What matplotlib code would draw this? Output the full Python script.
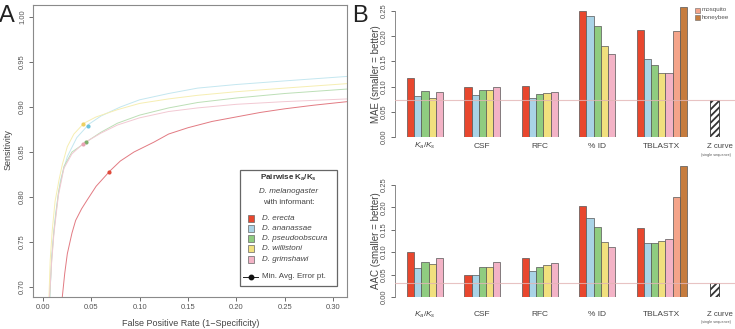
import numpy as np
import matplotlib
matplotlib.use("Agg")
import matplotlib.pyplot as plt
from matplotlib.patches import Rectangle
from matplotlib.lines import Line2D

plt.rcParams['font.family'] = ['Liberation Sans', 'DejaVu Sans']
plt.rcParams['mathtext.fontset'] = 'custom'
plt.rcParams['mathtext.rm'] = 'Liberation Sans'
plt.rcParams['mathtext.it'] = 'Liberation Sans:italic'
plt.rcParams['mathtext.bf'] = 'Liberation Sans:bold'
plt.rcParams['hatch.linewidth'] = 1.3

# ---- panel A: ROC curves ----
species = ["D. erecta", "D. ananassae", "D. pseudoobscura", "D. willistoni", "D. grimshawi"]
sp_colors = ["#e8472e", "#a9d3e6", "#8fcc80", "#f1e07e", "#f3b3c6"]
line_colors = ["#e27a82", "#c4e7f0", "#bcdfb6", "#f6eeb2", "#f2c9d3"]
pt_colors = ["#e04a3a", "#6cc3dc", "#7fae6c", "#eed060", "#e8a3b3"]

erecta_fpr = [0.020, 0.0225, 0.0252, 0.030, 0.0338, 0.040, 0.0459, 0.055, 0.0693, 0.080,
              0.0941, 0.1148, 0.13, 0.15, 0.175, 0.20, 0.225, 0.25, 0.28, 0.315]
erecta_tpr = [0.689, 0.715, 0.737, 0.760, 0.774, 0.787, 0.797, 0.812, 0.829, 0.840,
              0.850, 0.861, 0.870, 0.877, 0.884, 0.889, 0.894, 0.898, 0.902, 0.906]
ananassae_fpr = [0.0072, 0.009, 0.0131, 0.018, 0.0252, 0.035, 0.0476, 0.06, 0.08, 0.10,
                 0.13, 0.16, 0.20, 0.25, 0.315]
ananassae_tpr = [0.689, 0.735, 0.782, 0.818, 0.845, 0.866, 0.881, 0.890, 0.900, 0.908,
                 0.915, 0.921, 0.925, 0.929, 0.934]
pseudo_fpr = [0.0070, 0.009, 0.0114, 0.016, 0.0217, 0.030, 0.0459, 0.06, 0.077, 0.10,
              0.13, 0.16, 0.20, 0.25, 0.315]
pseudo_tpr = [0.689, 0.730, 0.763, 0.805, 0.834, 0.850, 0.862, 0.872, 0.882, 0.891,
              0.899, 0.905, 0.910, 0.915, 0.920]
willistoni_fpr = [0.0062, 0.0075, 0.0096, 0.0125, 0.0166, 0.020, 0.0252, 0.032, 0.0424,
                  0.055, 0.0769, 0.10, 0.13, 0.16, 0.20, 0.25, 0.315]
willistoni_tpr = [0.689, 0.730, 0.763, 0.795, 0.819, 0.836, 0.856, 0.870, 0.882,
                  0.889, 0.897, 0.904, 0.909, 0.913, 0.917, 0.921, 0.926]
grimshawi_fpr = [0.0068, 0.009, 0.0114, 0.016, 0.0217, 0.030, 0.0424, 0.06, 0.077, 0.10,
                 0.13, 0.16, 0.20, 0.25, 0.315]
grimshawi_tpr = [0.689, 0.728, 0.760, 0.802, 0.832, 0.848, 0.860, 0.871, 0.880, 0.888,
                 0.895, 0.899, 0.903, 0.906, 0.909]

# minimum average error points
min_err_fpr = [0.068, 0.0465, 0.045, 0.041, 0.041]
min_err_tpr = [0.828, 0.879, 0.861, 0.881, 0.859]

# ---- panel B: bar values ----
methods = ["$K_a/K_s$", "CSF", "RFC", "% ID", "TBLASTX"]
mae = [[0.118, 0.082, 0.091, 0.078, 0.089],
       [0.099, 0.084, 0.093, 0.093, 0.100],
       [0.101, 0.078, 0.085, 0.088, 0.090],
       [0.250, 0.241, 0.221, 0.180, 0.164],
       [0.213, 0.155, 0.143, 0.128, 0.128, 0.211, 0.259]]
aac = [[0.100, 0.064, 0.078, 0.073, 0.088],
       [0.048, 0.050, 0.066, 0.068, 0.077],
       [0.088, 0.059, 0.068, 0.071, 0.076],
       [0.202, 0.176, 0.157, 0.122, 0.111],
       [0.155, 0.120, 0.121, 0.125, 0.129, 0.223, 0.292]]
zcurve_mae = 0.074
zcurve_aac = 0.031
extra_names = ["mosquito", "honeybee"]
extra_colors = ["#f4a48a", "#c67c3e"]

W, H = 735, 329
fig = plt.figure(figsize=(W / 100, H / 100), dpi=100)

def frame(l, t, r, b):
    return [l / W, 1 - b / H, (r - l) / W, (b - t) / H]

tick_col = "#555555"

# ---------- Panel A ----------
axA = fig.add_axes(frame(33, 5, 347, 297))
curves = [(erecta_fpr, erecta_tpr), (ananassae_fpr, ananassae_tpr), (pseudo_fpr, pseudo_tpr),
          (willistoni_fpr, willistoni_tpr), (grimshawi_fpr, grimshawi_tpr)]
for (fx, fy), lc in zip(curves, line_colors):
    axA.plot(fx, fy, color=lc, lw=0.7)
for k in range(len(species)):
    axA.plot(min_err_fpr[k], min_err_tpr[k], 'o', ms=3, color=pt_colors[k], mec='none')
axA.set_xlim(-0.0103, 0.3145)
axA.set_ylim(0.689, 1.0133)
axA.set_xticks(np.arange(0, 0.31, 0.05))
axA.set_yticks(np.arange(0.70, 1.001, 0.05))
axA.set_xticklabels([f"{v:.2f}" for v in np.arange(0, 0.31, 0.05)])
axA.set_yticklabels([f"{v:.2f}" for v in np.arange(0.70, 1.001, 0.05)], rotation=90, va='center')
axA.tick_params(labelsize=5.5, colors=tick_col, length=3, width=0.6, pad=2)
for s in axA.spines.values():
    s.set_color("#8a8a8a")
    s.set_linewidth(0.8)

# legend box (manual, to get the mixed-style title)
axA.add_patch(Rectangle((0.659, 0.038), 0.309, 0.397, transform=axA.transAxes,
                        fill=False, ec="#666666", lw=0.9))
cx = 0.815
axA.text(cx, 0.408, "Pairwise $\\mathbf{K_a/K_s}$", transform=axA.transAxes, ha='center',
         va='center', fontsize=5.8, fontweight='bold', color="#333333")
axA.text(cx, 0.363, "D. melanogaster", transform=axA.transAxes, ha='center', va='center',
         fontsize=5.8, style='italic', color="#444444")
axA.text(cx, 0.323, "with informant:", transform=axA.transAxes, ha='center', va='center',
         fontsize=5.8, color="#444444")
for k, (name, c) in enumerate(zip(species, sp_colors)):
    y = 0.269 - k * 0.0348
    axA.add_patch(Rectangle((0.684, y - 0.012), 0.02, 0.024, transform=axA.transAxes,
                            fc=c, ec="#666666", lw=0.5))
    axA.text(0.728, y, name, transform=axA.transAxes, ha='left', va='center',
             fontsize=5.8, style='italic', color="#444444")
axA.add_line(Line2D([0.670, 0.718], [0.070, 0.070], transform=axA.transAxes, color="#222222", lw=0.7))
axA.plot([0.694], [0.070], 'o', ms=3.2, color="#111111", transform=axA.transAxes)
axA.text(0.728, 0.070, "Min. Avg. Error pt.", transform=axA.transAxes, ha='left', va='center',
         fontsize=5.8, color="#444444")

fig.text(191 / W, 1 - 323 / H, "False Positive Rate (1\u2212Specificity)", ha='center', va='center',
         fontsize=6.5, color="#444444")
fig.text(8 / W, 1 - 150 / H, "Sensitivity", ha='center', va='center', rotation=90,
         fontsize=6.5, color="#444444")
fig.text(7 / W, 1 - 16 / H, "A", ha='center', va='center', fontsize=17, color="#222222")
fig.text(360 / W, 1 - 16 / H, "B", ha='center', va='center', fontsize=17, color="#222222")

# ---------- Panel B ----------
def bar_panel(ax, vals, zval, ytop, label_y):
    for g, gv in enumerate(vals):
        for i, v in enumerate(gv):
            col = sp_colors[i] if i < 5 else extra_colors[i - 5]
            ax.bar(8 * g + i, v, width=1.0, color=col, edgecolor="#555555", linewidth=0.5, zorder=2)
        ax.text(8 * g + (len(gv) - 1) / 2, label_y, methods[g], ha='center', va='center',
                fontsize=6, color="#444444", transform=ax.get_xaxis_transform())
    ax.bar(42.3, zval, width=1.25, color="white", edgecolor="#333333", hatch="/////",
           linewidth=0.6, zorder=2)
    ax.axhline(zval, color="#e3b5b5", lw=0.8, zorder=3, alpha=0.8)
    ax.set_xlim(-2.17, 45.2)
    ax.set_ylim(0, ytop)
    ax.set_yticks(np.arange(0, 0.251, 0.05))
    ax.set_yticklabels([f"{v:.2f}" for v in np.arange(0, 0.251, 0.05)], rotation=90, va='center')
    ax.spines['left'].set_bounds(0, 0.25)
    for s in ['top', 'right', 'bottom']:
        ax.spines[s].set_visible(False)
    ax.spines['left'].set_color("#8a8a8a")
    ax.spines['left'].set_linewidth(0.7)
    ax.set_xticks([])
    ax.tick_params(axis='y', labelsize=5.5, colors=tick_col, length=3, width=0.6, pad=2)
    ax.patch.set_alpha(0)

axB1 = fig.add_axes(frame(395, 4, 735, 137))
bar_panel(axB1, mae, zcurve_mae, 0.264, -0.07)
axB2 = fig.add_axes(frame(395, 163, 735, 297))
bar_panel(axB2, aac, zcurve_aac, 0.299, -0.13)

for ytop_lab in (147, 314):
    fig.text(720 / W, 1 - ytop_lab / H, "Z curve", ha='center', va='center', fontsize=5.6,
             color="#444444")
    fig.text(716 / W, 1 - (ytop_lab + 8) / H, "(single sequence)", ha='center', va='center',
             fontsize=2.7, color="#555555")

fig.text(376 / W, 1 - 74 / H, "MAE (smaller = better)", rotation=90, ha='center', va='center',
         fontsize=7, color="#444444")
fig.text(376 / W, 1 - 241 / H, "AAC (smaller = better)", rotation=90, ha='center', va='center',
         fontsize=7, color="#444444")

# mosquito / honeybee key
for k, (name, c) in enumerate(zip(extra_names, extra_colors)):
    y = 1 - (10 + 7 * k) / H
    fig.patches.append(Rectangle((695 / W, y - 2.5 / H), 5 / W, 5 / H, transform=fig.transFigure,
                                 fc=c, ec="#666666", lw=0.4, figure=fig))
    fig.text(702 / W, y, name, ha='left', va='center', fontsize=4.5, color="#555555")

fig.savefig("out.png", dpi=100)
